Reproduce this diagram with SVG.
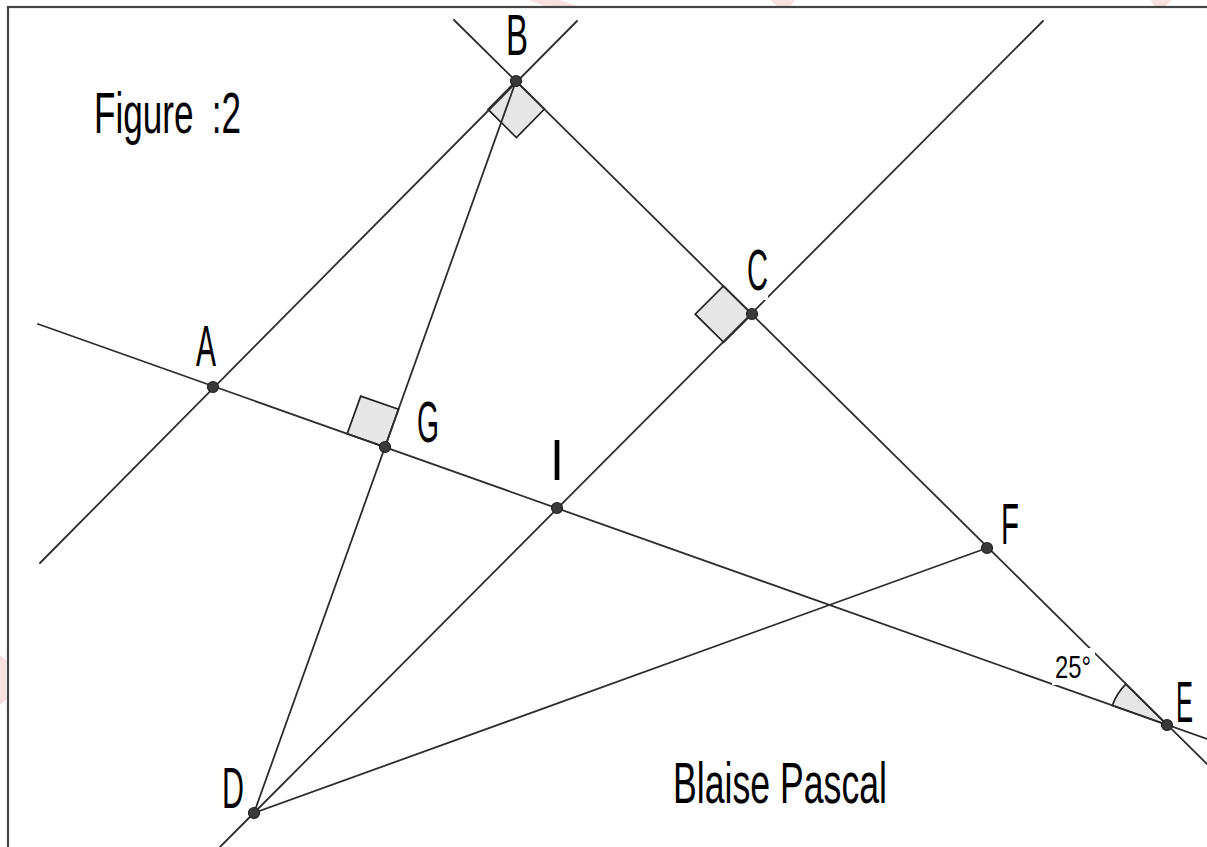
<svg xmlns="http://www.w3.org/2000/svg" width="1207" height="847" viewBox="0 0 1207 847">
<style>
.ln{stroke:#2d2d2d;stroke-width:1.8;fill:none;stroke-linecap:round}
.ra{fill:#e6e6e6;stroke:#222;stroke-width:1.7;stroke-linejoin:miter}
.pt{fill:#3a3a3a;stroke:#222;stroke-width:1.2}
.lb{font-family:"Liberation Sans",Arial,sans-serif;font-size:58px;fill:#000}
.sm{font-family:"Liberation Sans",Arial,sans-serif;font-size:31px;fill:#000}
.bg{fill:#fff;stroke:none}
.wm{fill:#f7e0e0;stroke:none}
</style>
<rect x="0" y="0" width="1207" height="847" fill="#fff"/>
<g id="watermark">
<polygon class="wm" points="528,0 560,0 580,7 548,7"/>
<polygon class="wm" points="770,0 795,0 790,7 778,7"/>
<polygon class="wm" points="1150,0 1172,0 1165,7 1155,7"/>
<polygon class="wm" points="0,655 6,660 6,700 0,705"/>
</g>
<rect id="frame" x="8" y="7" width="1300" height="900" fill="#fff" stroke="#444" stroke-width="2.2"/>
<g id="angles">
<polygon class="ra" points="516,81 488,109.4 516.4,137.5 544.5,109"/>
<polygon class="ra" points="752,314 723.5,286 695.2,314.2 723.7,342.3"/>
<polygon class="ra" points="385,447 347.2,433.8 360.7,396.1 398.5,409.3"/>
<path class="ra" d="M1167,725 L1112.3,705.6 A58,58 0 0 1 1125.8,684.2 Z"/>
</g>
<g id="connectors">
<line class="ln" x1="40" y1="563" x2="577" y2="21"/>
<line class="ln" x1="454" y1="20" x2="1207" y2="764"/>
<line class="ln" x1="220" y1="847" x2="1043" y2="21"/>
<line class="ln" x1="38" y1="324" x2="1207" y2="739"/>
<line class="ln" x1="516" y1="81" x2="254" y2="813"/>
<line class="ln" x1="254" y1="813" x2="987" y2="548"/>
</g>
<g id="label-bg">
<rect class="bg" x="1052" y="648" width="43" height="37"/>
<rect class="bg" x="744" y="244" width="24" height="56"/>
</g>
<g id="title"><text class="lb" x="94" y="133" textLength="147" lengthAdjust="spacingAndGlyphs" word-spacing="14">Figure :2</text></g>
<g id="caption"><text class="lb" x="673" y="803" textLength="214" lengthAdjust="spacingAndGlyphs">Blaise Pascal</text></g>
<g id="angle-label"><text class="sm" x="1055" y="678" textLength="36" lengthAdjust="spacingAndGlyphs">25°</text></g>
<g id="node-A"><circle class="pt" cx="213" cy="387" r="5.5"/><text class="lb" x="196" y="366" textLength="20" lengthAdjust="spacingAndGlyphs">A</text></g>
<g id="node-B"><circle class="pt" cx="516" cy="81" r="5.5"/><text class="lb" x="506" y="55" textLength="22" lengthAdjust="spacingAndGlyphs">B</text></g>
<g id="node-C"><circle class="pt" cx="752" cy="314" r="5.5"/><text class="lb" x="747" y="290" textLength="21" lengthAdjust="spacingAndGlyphs">C</text></g>
<g id="node-G"><circle class="pt" cx="385" cy="447" r="5.5"/><text class="lb" x="417" y="442" textLength="22" lengthAdjust="spacingAndGlyphs">G</text></g>
<g id="node-I"><circle class="pt" cx="557" cy="508" r="5.5"/><text class="lb" x="550" y="480" textLength="14" lengthAdjust="spacingAndGlyphs">I</text></g>
<g id="node-F"><circle class="pt" cx="987" cy="548" r="5.5"/><text class="lb" x="1001" y="544" textLength="18" lengthAdjust="spacingAndGlyphs">F</text></g>
<g id="node-E"><circle class="pt" cx="1167" cy="725" r="5.5"/><text class="lb" transform="translate(1176,722) scale(0.44,1)">E</text></g>
<g id="node-D"><circle class="pt" cx="254" cy="813" r="5.5"/><text class="lb" x="222" y="808" textLength="22" lengthAdjust="spacingAndGlyphs">D</text></g>
</svg>
